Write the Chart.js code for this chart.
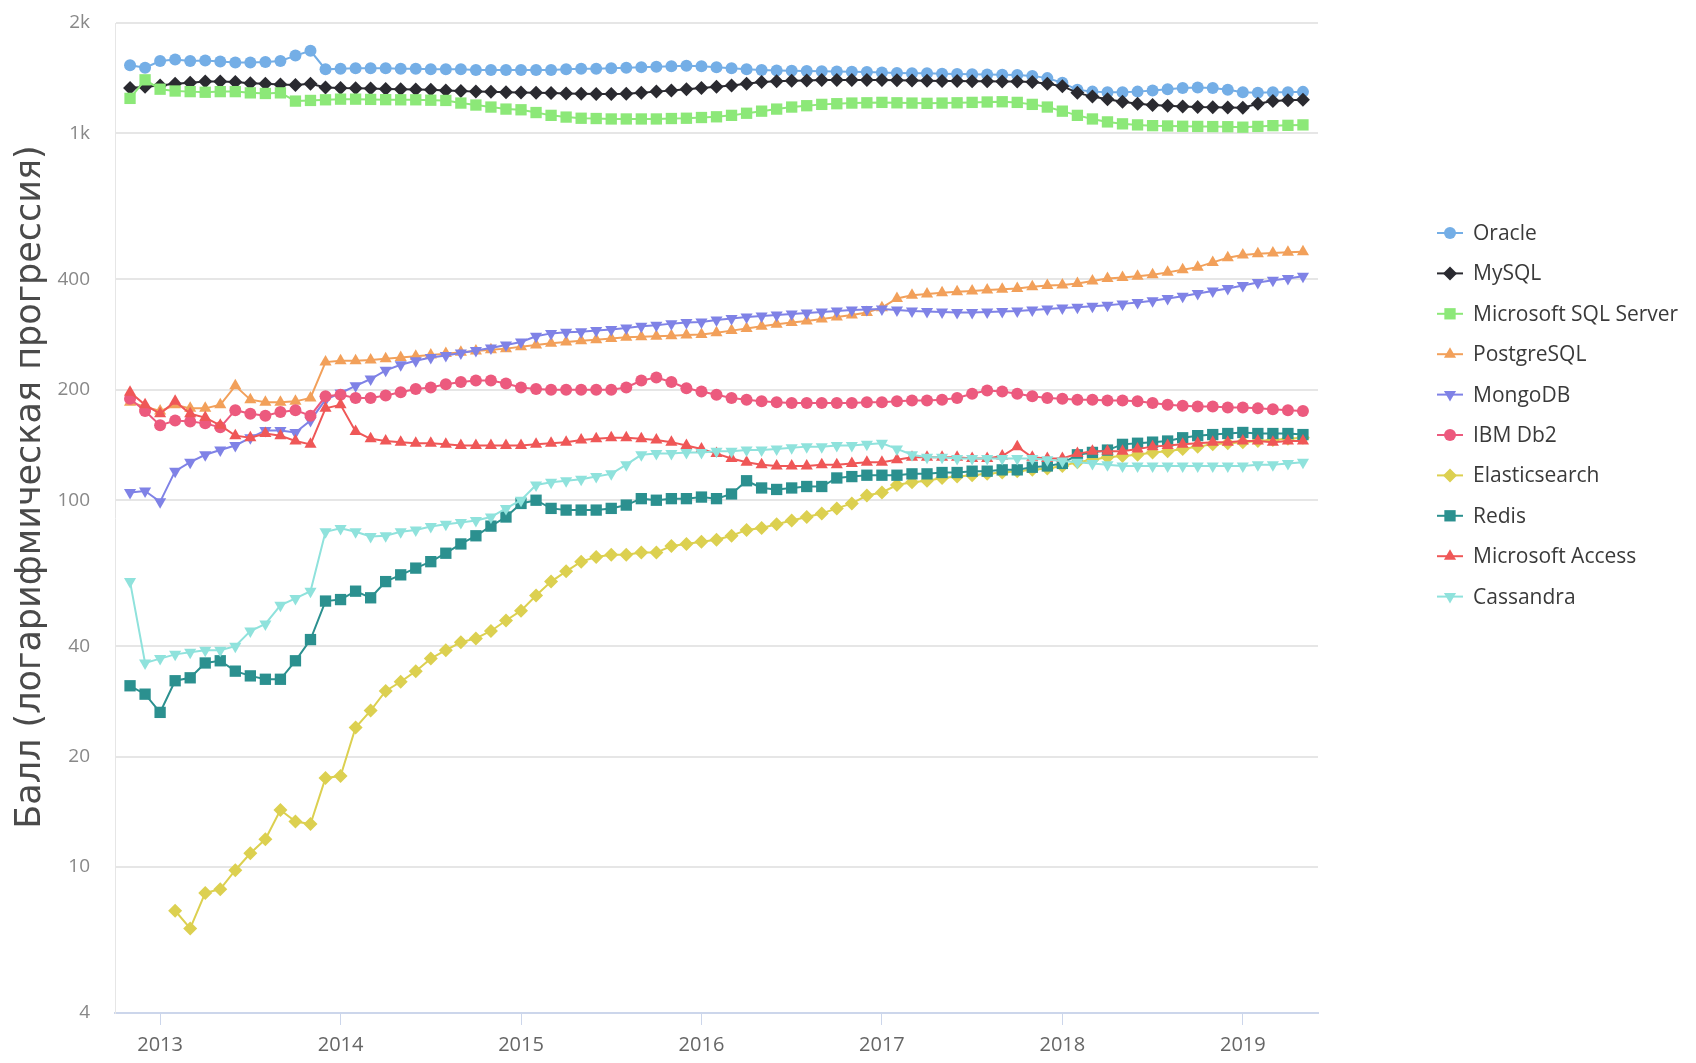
<!DOCTYPE html>
<html lang="ru">
<head>
<meta charset="utf-8">
<title>DB-Engines</title>
<script src="https://cdn.jsdelivr.net/npm/chart.js@4.4.1/dist/chart.umd.min.js"></script>
<style>
  html, body { margin: 0; padding: 0; background: #fff; }
  #wrap { width: 1696px; height: 1063px; }
</style>
</head>
<body>
<div id="wrap"><canvas id="rankChart" width="1696" height="1063"></canvas></div>
<script>
// monthly scores, Nov 2012 .. May 2019 (month index 0 = Jan 2013)
var firstMonth = -2;

var oracle = [
  1535, 1510,
  1575, 1590, 1575, 1580, 1570, 1560, 1560, 1565, 1575, 1630, 1680, 1495,
  1500, 1505, 1505, 1505, 1500, 1500, 1495, 1495, 1495, 1490, 1490, 1490,
  1490, 1490, 1490, 1495, 1500, 1500, 1505, 1510, 1515, 1520, 1525, 1530,
  1525, 1515, 1505, 1495, 1490, 1485, 1482, 1480, 1478, 1475, 1472, 1470,
  1465, 1462, 1460, 1458, 1455, 1452, 1450, 1448, 1445, 1442, 1435, 1415,
  1375, 1315, 1300, 1295, 1295, 1300, 1310, 1320, 1330, 1335, 1330, 1315,
  1295, 1290, 1295, 1295, 1298
];
var mysql = [
  1330, 1340,
  1350, 1365, 1375, 1385, 1385, 1380, 1370, 1365, 1360, 1356, 1365, 1335,
  1330, 1328, 1325, 1322, 1320, 1318, 1315, 1310, 1305, 1300, 1298, 1295,
  1292, 1290, 1288, 1285, 1282, 1280, 1280, 1282, 1290, 1300, 1310, 1320,
  1330, 1340, 1350, 1365, 1380, 1388, 1392, 1395, 1398, 1398, 1398, 1398,
  1398, 1396, 1394, 1392, 1390, 1390, 1388, 1387, 1386, 1385, 1380, 1365,
  1345, 1290, 1260, 1240, 1220, 1205, 1195, 1190, 1185, 1180, 1178, 1176,
  1175, 1205, 1225, 1232, 1235
];
var mssql = [
  1246, 1400,
  1320, 1305, 1300, 1295, 1300, 1300, 1290, 1285, 1290, 1225, 1230, 1235,
  1240, 1240, 1238, 1236, 1235, 1235, 1232, 1230, 1210, 1195, 1180, 1165,
  1160, 1140, 1120, 1108, 1100, 1098, 1095, 1095, 1095, 1095, 1098, 1100,
  1105, 1110, 1120, 1135, 1150, 1165, 1180, 1190, 1200, 1205, 1210, 1212,
  1215, 1212, 1210, 1208, 1210, 1212, 1215, 1218, 1220, 1215, 1200, 1180,
  1150, 1120, 1095, 1075, 1062, 1055, 1050, 1048, 1046, 1045, 1044, 1043,
  1040, 1045, 1050, 1052, 1055
];
var postgres = [
  185, 180,
  175, 182, 178, 178, 182, 205, 188, 185, 185, 186, 190, 238,
  240, 240, 241, 243, 245, 247, 249, 251, 253, 255, 257, 259,
  262, 265, 268, 270, 272, 274, 276, 278, 279, 280, 281, 282,
  283, 286, 290, 294, 298, 302, 305, 308, 312, 316, 320, 325,
  335, 355, 362, 365, 368, 370, 372, 374, 376, 378, 382, 385,
  386, 390, 396, 402, 405, 408, 412, 418, 425, 432, 445, 458,
  466, 470, 472, 474, 476
];
var mongo = [
  105, 106,
  99, 120, 127, 133, 137, 141, 148, 155, 155, 153, 165, 188,
  196, 205, 214, 226, 234, 240, 245, 248, 252, 256, 260, 265,
  270, 280, 285, 287, 288, 290, 292, 295, 298, 300, 303, 305,
  306, 310, 313, 316, 318, 320, 322, 324, 326, 328, 330, 331,
  332, 330, 328, 327, 326, 325, 325, 326, 327, 328, 330, 332,
  334, 336, 338, 340, 343, 346, 350, 355, 360, 366, 372, 378,
  385, 392, 398, 402, 408
];
var db2 = [
  189, 175,
  160, 165, 164, 162, 158, 176, 172, 170, 174, 176, 170, 192,
  194, 190, 190, 193, 197, 201, 203, 207, 210, 212, 212, 208,
  203, 201, 200, 200, 200, 200, 200, 203, 212, 216, 210, 202,
  198, 194, 190, 188, 186, 185, 184, 184, 184, 184, 184, 185,
  185, 186, 187, 187, 188, 190, 195, 199, 198, 195, 192, 190,
  189, 188, 188, 187, 187, 186, 184, 182, 181, 180, 180, 179,
  179, 178, 177, 176, 175
];
var elastic = [
  null, null,
  null, 7.6, 6.8, 8.5, 8.7, 9.8, 10.9, 11.9, 14.3, 13.3, 13.1, 17.5,
  17.7, 24, 26.7, 30.2, 32, 34.2, 37, 39, 41, 42, 44, 47,
  50, 55, 60, 64, 68, 70, 71, 71, 72, 72, 75, 76,
  77, 78, 80, 83, 84, 86, 88, 90, 92, 95, 98, 103,
  105, 110, 112, 113, 115, 116, 117, 118, 119, 120, 121, 122,
  124, 127, 129, 131, 132, 133, 135, 136, 138, 140, 142, 143,
  144, 145, 146, 147, 148
];
var redis = [
  31.2, 29.6,
  26.4, 32.2, 32.8, 36, 36.5, 34.2, 33.2, 32.5, 32.5, 36.5, 41.7, 53.1,
  53.6, 56.5, 54.2, 60, 62.6, 65.3, 68, 71.7, 76, 80, 85, 90,
  98, 100, 95, 94, 94, 94, 95, 97, 101, 100, 101, 101,
  102, 101, 104, 113, 108, 107, 108, 109, 109, 115, 116, 117,
  117, 117, 118, 118, 119, 119, 120, 120, 121, 121, 123, 124,
  126, 133, 135, 137, 142, 143, 144, 145, 148, 150, 151, 152,
  153, 152, 152, 152, 151
];
var access = [
  197, 182,
  172, 186, 172, 168, 160, 150, 148, 152, 150, 145, 142, 178,
  182, 154, 147, 145, 144, 143, 143, 142, 141, 141, 141, 141,
  141, 142, 143, 144, 146, 147, 148, 148, 147, 146, 144, 141,
  138, 134, 130, 127, 125, 124, 124, 124, 125, 125, 126, 127,
  127, 129, 131, 131, 131, 131, 130, 130, 132, 140, 131, 130,
  130, 134, 136, 136, 136, 138, 140, 141, 142, 143, 144, 144,
  145, 145, 144, 145, 145
];
var cassandra = [
  60, 36,
  37, 38, 38.5, 39, 39, 40, 44, 46, 51.7, 54, 56.5, 82,
  83.8, 82, 79.6, 80, 82, 83, 84.8, 86, 87, 88, 90, 95,
  100, 110, 112, 113, 114, 116, 118, 125, 133, 134, 134, 135,
  135, 136, 136, 137, 137, 138, 139, 140, 140, 141, 141, 142,
  143, 138, 133, 131, 131, 130, 130, 130, 130, 130, 130, 129,
  128, 127, 126, 125, 124, 124, 124, 124, 124, 124, 124, 124,
  124, 125, 125, 126, 127
];

var names = ["Oracle", "MySQL", "Microsoft SQL Server", "PostgreSQL", "MongoDB",
  "IBM Db2", "Elasticsearch", "Redis", "Microsoft Access", "Cassandra"];
var series = [oracle, mysql, mssql, postgres, mongo, db2, elastic, redis, access, cassandra];
var colors = ["#74aee6", "#2a2a30", "#8ce878", "#f2a05a", "#7f82e6",
  "#ec5a7e", "#dcd050", "#2b908f", "#ef5757", "#8fe2dc"];
var markers = ["circle", "rectRot", "rect", "triangle", "triangle", "circle", "rectRot", "rect", "triangle", "triangle"];
var rotations = [0, 0, 0, 0, 180, 0, 0, 0, 0, 180];
var sizes = [6, 7, 8, 7, 7, 6, 7, 8, 7, 7];

var yTicks = [4, 10, 20, 40, 100, 200, 400, 1000, 2000];
var yearTicks = [0, 12, 24, 36, 48, 60, 72];
var yTitle = "Балл (логарифмическая прогрессия)";

var datasets = series.map(function (vals, i) {
  return {
    label: names[i],
    data: vals.map(function (v, k) { return { x: firstMonth + k, y: v }; }),
    borderColor: colors[i],
    backgroundColor: colors[i],
    borderWidth: 2,
    pointStyle: markers[i],
    pointRotation: rotations[i],
    pointRadius: sizes[i],
    pointBorderWidth: 0,
    pointBackgroundColor: colors[i],
    fill: false,
    tension: 0,
    order: series.length - i
  };
});

// y axis title and legend drawn by hand, to sit where the original has them
var extras = {
  id: "extras",
  afterDraw: function (chart) {
    var ctx = chart.ctx;
    ctx.save();
    ctx.translate(31, 487);
    ctx.rotate(-Math.PI / 2);
    ctx.font = '35px "DejaVu Sans"';
    ctx.fillStyle = "#4a4a4a";
    ctx.textAlign = "center";
    ctx.textBaseline = "middle";
    ctx.fillText(yTitle, 0, 0);
    ctx.restore();

    ctx.save();
    ctx.font = '21px "Open Sans"';
    ctx.textBaseline = "middle";
    chart.data.datasets.forEach(function (ds, i) {
      var y = 233 + i * 40.4;
      ctx.strokeStyle = ds.borderColor;
      ctx.lineWidth = 2;
      ctx.beginPath();
      ctx.moveTo(1437, y);
      ctx.lineTo(1463, y);
      ctx.stroke();
      ctx.fillStyle = ds.borderColor;
      Chart.helpers.drawPoint(ctx, {
        pointStyle: ds.pointStyle, rotation: ds.pointRotation,
        radius: ds.pointRadius, borderWidth: 0
      }, 1450, y);
      ctx.fillStyle = "#3a3a3a";
      ctx.fillText(ds.label, 1473, y + 1);
    });
    ctx.restore();
  }
};

var ctx = document.getElementById("rankChart").getContext("2d");
new Chart(ctx, {
  type: "line",
  data: { datasets: datasets },
  plugins: [extras],
  options: {
    responsive: false,
    animation: false,
    layout: { padding: { top: 23, right: 378, bottom: 0, left: 0 } },
    plugins: {
      legend: { display: false },
      tooltip: { enabled: false }
    },
    scales: {
      x: {
        type: "linear",
        min: -3,
        max: 77,
        afterBuildTicks: function (axis) {
          axis.ticks = yearTicks.map(function (v) { return { value: v }; });
        },
        afterFit: function (scale) { scale.height = 50; },
        ticks: {
          callback: function (v) { return String(2013 + v / 12); },
          font: { family: "Open Sans", size: 20 },
          color: "#666",
          padding: 8,
          maxRotation: 0,
          autoSkip: false
        },
        grid: { drawOnChartArea: false, drawTicks: true, tickLength: 12, color: "#ccd6eb" },
        border: { color: "#ccd6eb", width: 2 }
      },
      y: {
        type: "logarithmic",
        min: 4,
        max: 2000,
        afterBuildTicks: function (axis) {
          axis.ticks = yTicks.map(function (v) { return { value: v }; });
        },
        afterFit: function (scale) { scale.width = 115; },
        ticks: {
          callback: function (v) { return v >= 1000 ? (v / 1000) + "k" : String(v); },
          font: { family: "Open Sans", size: 19 },
          color: "#888",
          padding: 0
        },
        // invisible tick marks push the labels away from the plot
        grid: { color: "#e6e6e6", lineWidth: 2, drawTicks: true, tickLength: 25, tickColor: "rgba(0,0,0,0)" },
        border: { display: true, color: "#e6e6e6" }
      }
    }
  }
});
</script>
</body>
</html>
